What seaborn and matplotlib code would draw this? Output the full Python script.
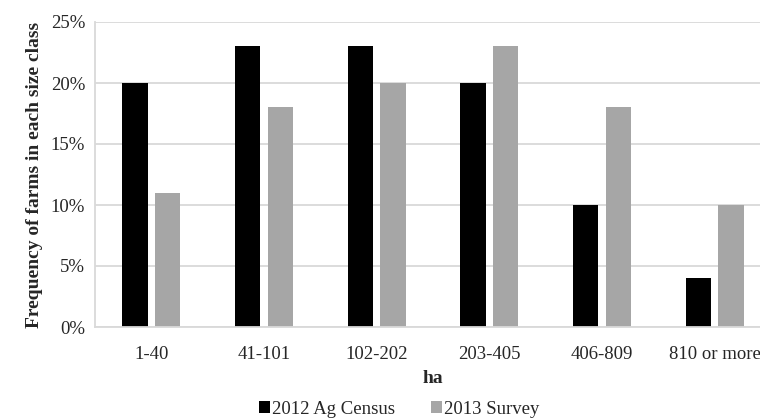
import numpy as np
import pandas as pd
import seaborn as sns
import matplotlib.pyplot as plt
from matplotlib.ticker import FixedLocator, PercentFormatter

size_classes = ["1-40", "41-101", "102-202", "203-405", "406-809", "810 or more"]
census_2012 = [20, 23, 23, 20, 10, 4]
survey_2013 = [11, 18, 20, 23, 18, 10]
series_names = ["2012 Ag Census", "2013 Survey"]

df = pd.DataFrame({
    "ha": size_classes * 2,
    "freq": census_2012 + survey_2013,
    "series": [series_names[0]] * 6 + [series_names[1]] * 6,
})

sns.set_style("white")
plt.rcParams["font.family"] = ["Liberation Serif", "DejaVu Serif"]

fig = plt.figure(figsize=(7.6, 4.18), dpi=100)
# axes runs past the right edge, as in the cropped original
ax = fig.add_axes([95 / 760, 1 - 327 / 418, 676 / 760, 305 / 418])

sns.barplot(data=df, x="ha", y="freq", hue="series", order=size_classes,
            hue_order=series_names, palette=["#000000", "#a6a6a6"],
            width=0.576, gap=0.22, saturation=1, linewidth=0, edgecolor="none",
            ax=ax, legend=True)

ax.set_ylim(0, 25)
ax.set_xlim(-0.5, 5.5)
ax.set_yticks([0, 5, 10, 15, 20, 25])
ax.yaxis.set_major_formatter(PercentFormatter(decimals=0))
ax.yaxis.grid(True, color="#d9d9d9", linewidth=1.3)
ax.set_axisbelow(True)

for s in ["top", "right"]:
    ax.spines[s].set_visible(False)
for s in ["left", "bottom"]:
    ax.spines[s].set_color("#d9d9d9")
    ax.spines[s].set_linewidth(1.3)

ax.tick_params(axis="x", which="major", length=0, labelsize=13.5, pad=14)
ax.xaxis.set_minor_locator(FixedLocator(np.arange(-0.5, 6, 1)))
ax.tick_params(axis="x", which="minor", length=5, color="#d9d9d9", width=1.3)
ax.tick_params(axis="y", length=5, color="#d9d9d9", width=1.3, labelsize=13.5, pad=2)

ax.set_xlabel("ha", fontsize=14, fontweight="bold", labelpad=5)
ax.set_ylabel("Frequency of farms in each size class", fontsize=14,
              fontweight="bold", labelpad=6)

handles, labels = ax.get_legend_handles_labels()
ax.legend_.remove()
fig.legend(handles, labels, loc="center", bbox_to_anchor=(399 / 760, 1 - 409 / 418),
           ncol=2, frameon=False, fontsize=13.5, handlelength=0.6, handleheight=0.6,
           handletextpad=0.1, columnspacing=1.9)

fig.savefig("out.png", dpi=100)
